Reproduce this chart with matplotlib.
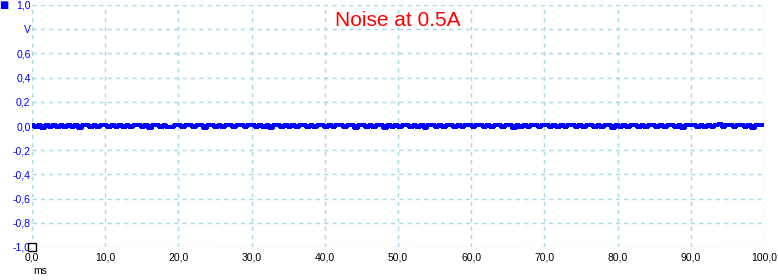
import matplotlib
matplotlib.use("Agg")
import matplotlib.pyplot as plt
import numpy as np

plt.rcParams['font.family'] = ['Liberation Sans', 'DejaVu Sans']

title = "Noise at 0.5A"
x_ticks = [0, 10, 20, 30, 40, 50, 60, 70, 80, 90, 100]
y_ticks = [-1.0, -0.8, -0.6, -0.4, -0.2, 0.0, 0.2, 0.4, 0.6, 0.8, 1.0]
x_labels = ["0,0", "10,0", "20,0", "30,0", "40,0", "50,0", "60,0", "70,0", "80,0", "90,0", "100,0"]
y_labels = ["-1,0", "-0,8", "-0,6", "-0,4", "-0,2", "0,0", "0,2", "0,4", "0,6", "V", "1,0"]

noise = [0.006, -0.006, 0.008, -0.014, 0.006, -0.005, 0.007, -0.006, 0.006, -0.007,
         0.009, -0.006, 0.006, -0.016, 0.006, 0.007, -0.006, 0.006, -0.008, 0.007,
         0.006, -0.006, 0.007, -0.006, 0.010, -0.006, 0.006, -0.007, 0.006, 0.007,
         -0.006, 0.007, -0.015, 0.006, 0.006, -0.006, 0.009, -0.006, -0.006, 0.006,
         0.007, -0.007, 0.006, 0.008, -0.006, 0.006, 0.006, -0.016, 0.006, 0.007,
         -0.006, 0.009, -0.007, 0.006, 0.006, -0.008, 0.006, 0.008, -0.006, 0.006,
         0.007, -0.006, 0.006, -0.006, 0.010, -0.014, 0.006, 0.006, -0.007, 0.008,
         -0.006, 0.006, -0.007, 0.007, 0.006, -0.006, 0.009, -0.006, 0.006, 0.007,
         -0.006, 0.008, -0.006, 0.006, 0.006, -0.007, 0.006, 0.009, -0.016, 0.006,
         0.007, -0.006, 0.008, -0.007, 0.006, 0.006, -0.015, 0.007, -0.006, 0.009,
         -0.008, 0.006, 0.006, -0.007, 0.008, -0.006, 0.006, -0.014, 0.007, 0.006,
         -0.006, 0.009, -0.006, 0.006, 0.006, -0.008, 0.007, -0.006, 0.008, 0.006,
         -0.006, 0.006, 0.006, -0.007, 0.009, -0.007, 0.006, 0.007, -0.006, 0.006,
         0.008, -0.015, 0.006, -0.006, 0.007, -0.006, 0.009, 0.006, -0.007, 0.006,
         0.006, -0.007, 0.008, -0.006, 0.006, -0.007, 0.007, 0.006, -0.006, 0.009,
         -0.008, 0.006, 0.007, -0.006, 0.008, -0.006, 0.006, 0.006, -0.014, 0.007,
         -0.006, 0.009, -0.006, 0.006, 0.006, -0.007, 0.008, -0.008, 0.006, 0.006,
         -0.006, 0.009, -0.007, 0.006, 0.007, -0.006, 0.008, -0.016, 0.006, 0.006,
         0.007, -0.006, 0.009, -0.006, 0.006, -0.008, 0.007, 0.016, -0.006, 0.008,
         0.006, -0.006, 0.007, 0.006, -0.007, 0.009, -0.015, 0.006, 0.006, 0.007]
t = np.linspace(0, 100, len(noise))

fig = plt.figure(figsize=(7.78, 2.80), dpi=100)
ax = fig.add_axes([32/778, 1 - 247/280, (764 - 32)/778, (247 - 5)/280])

grid_c = '#a8d8e8'
for v in x_ticks:
    ax.axvline(v, color=grid_c, lw=1, ls=(0, (3, 3)), zorder=0)
for v in y_ticks:
    ax.axhline(v, color=grid_c, lw=1, ls=(0, (3, 3)), zorder=0)

ax.plot(t, noise, color='#0000ff', lw=1.6, drawstyle='steps-mid',
        antialiased=False, zorder=3)

ax.set_xlim(0, 100)
ax.set_ylim(-1, 1)
for s in ax.spines.values():
    s.set_visible(False)
ax.set_xticks(x_ticks)
ax.set_xticklabels(x_labels)
ax.set_yticks(y_ticks)
ax.set_yticklabels(y_labels)
ax.tick_params(length=0, labelsize=7.5, pad=2)
ax.tick_params(axis='y', colors='#0000ff', pad=1)
ax.tick_params(axis='x', colors='black', pad=4)

ax.text(50, 0.87, title, color='red', fontsize=15, ha='center', va='center')

# markers
fig.text(4/778, 1 - 5/280, "\u25a0", color='#0000ff', fontsize=7, ha='center', va='center',
         family='DejaVu Sans')
ax.plot([0], [-1], marker='s', ms=6, mfc='white', mec='black', mew=1, clip_on=False, zorder=5)
fig.text(40/778, 1 - 271/280, "ms", color='black', fontsize=7.5, ha='center', va='center')

fig.savefig("out.png", dpi=100, facecolor='white')
